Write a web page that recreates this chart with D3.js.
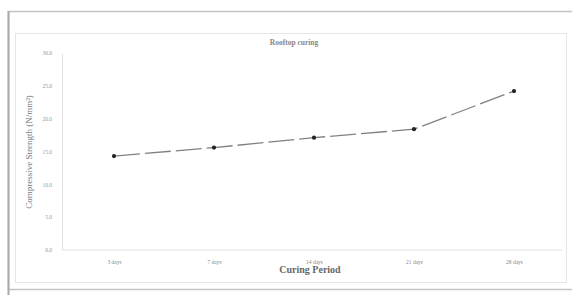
<!DOCTYPE html>
<html><head><meta charset="utf-8">
<script src="https://cdn.jsdelivr.net/npm/d3@7"></script>
<style>body{margin:0;background:#fff}svg{display:block}</style>
</head><body>
<svg id="c" width="572" height="295"></svg>
<script>
const categories = ["3 days", "7 days", "14 days", "21 days", "28 days"];
const strength = [14.3, 15.6, 17.1, 18.4, 24.2];
const yTicks = [0, 5, 10, 15, 20, 25, 30];
const chartTitle = "Rooftop curing";
const xTitle = "Curing Period";
const yTitle = "Compressive Strength (N/mm²)";

const svg = d3.select("#c");
// outer frame
svg.append("rect").attr("x", 8.5).attr("y", 11.5).attr("width", 600).attr("height", 278)
  .attr("fill", "none").attr("stroke", "#c4c4c4").attr("stroke-width", 1.5);
svg.append("line").attr("x1", 8.5).attr("x2", 8.5).attr("y1", 11).attr("y2", 295)
  .attr("stroke", "#aaa").attr("stroke-width", 2);
// inner chart box
svg.append("rect").attr("x", 15.5).attr("y", 33.5).attr("width", 551).attr("height", 249)
  .attr("fill", "#fff").attr("stroke", "#e6e6e6").attr("stroke-width", 1);

const x = d3.scalePoint().domain(categories).range([114, 514]);
const y = d3.scaleLinear().domain([0, 30]).range([250, 53]);

// y axis
const ya = svg.append("g").attr("transform", "translate(62,0)")
  .call(d3.axisLeft(y).tickValues(yTicks).tickFormat(d3.format(".1f")).tickSize(0).tickPadding(10));
ya.select(".domain").attr("stroke", "#e3e3e3");
ya.selectAll("text").attr("fill", "#999").attr("font-size", 5.5).attr("font-family", "Liberation Serif");

// baseline gridline
svg.append("line").attr("x1", 62).attr("x2", 562).attr("y1", y(0)).attr("y2", y(0))
  .attr("stroke", "#e3e3e3");

// x axis labels
const xa = svg.append("g").attr("transform", `translate(0,${y(0)})`)
  .call(d3.axisBottom(x).tickSize(0).tickPadding(10));
xa.select(".domain").remove();
xa.selectAll("text").attr("fill", "#888").attr("font-size", 5.5).attr("font-family", "Liberation Serif");

// line
const line = d3.line().x((d, i) => x(categories[i])).y(d => y(d));
svg.append("path").datum(strength).attr("d", line).attr("fill", "none")
  .attr("stroke", "#808080").attr("stroke-width", 1.3).attr("stroke-dasharray", "26,5");
svg.selectAll("circle.pt").data(strength).join("circle").attr("class", "pt")
  .attr("cx", (d, i) => x(categories[i])).attr("cy", d => y(d)).attr("r", 2.1).attr("fill", "#222");

// titles
svg.append("text").attr("x", 294).attr("y", 45).attr("text-anchor", "middle")
  .attr("font-family", "Liberation Serif").attr("font-weight", "bold").attr("font-size", 7.5)
  .attr("fill", "#888").text(chartTitle);
svg.append("text").attr("x", 310).attr("y", 273).attr("text-anchor", "middle")
  .attr("font-family", "Liberation Serif").attr("font-weight", "bold").attr("font-size", 10)
  .attr("fill", "#666").text(xTitle);
svg.append("text").attr("transform", "translate(32,152) rotate(-90)").attr("text-anchor", "middle")
  .attr("font-family", "Liberation Serif").attr("font-size", 9)
  .attr("fill", "#777").text(yTitle);
</script>
</body></html>
